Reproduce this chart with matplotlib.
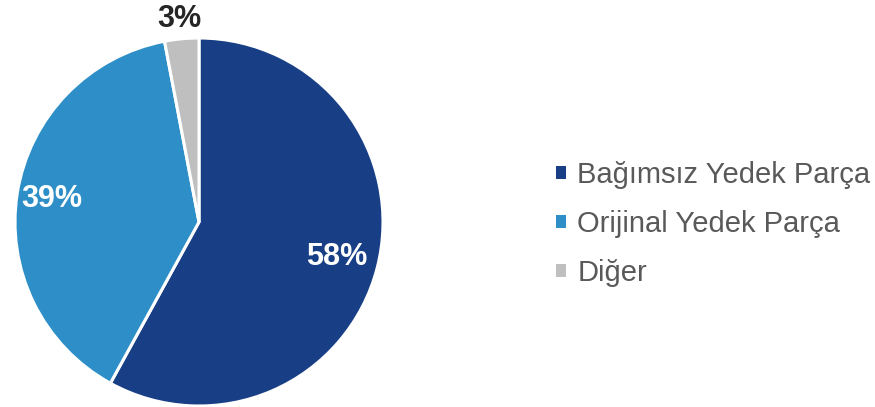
import matplotlib
matplotlib.use("Agg")
import matplotlib.pyplot as plt
from matplotlib.patches import Patch
import numpy as np

categories = ["Bağımsız Yedek Parça", "Orijinal Yedek Parça", "Diğer"]
values = [58, 39, 3]
labels = ["58%", "39%", "3%"]
colors = ["#183f86", "#2e8fc8", "#bfbfbf"]
label_colors = ["white", "white", "#262626"]
label_dist = [0.77, 0.81, 1.11]

plt.rcParams['font.family'] = ['Liberation Sans', 'DejaVu Sans']

W, H = 875, 407
fig = plt.figure(figsize=(W / 100, H / 100), dpi=100)
ax = fig.add_axes([0, 0, 1, 1])
ax.set_xlim(0, W)
ax.set_ylim(0, H)
ax.set_aspect('equal')
ax.axis('off')

cx, cy, r = 199, H - 222, 184
wedges, _ = ax.pie(values, colors=colors, startangle=90, counterclock=False,
                   center=(cx, cy), radius=r,
                   wedgeprops=dict(edgecolor='white', linewidth=2.2))
ax.set_xlim(0, W)
ax.set_ylim(0, H)

for w, lab, lc, d in zip(wedges, labels, label_colors, label_dist):
    ang = np.deg2rad((w.theta1 + w.theta2) / 2)
    x = cx + d * r * np.cos(ang)
    y = cy + d * r * np.sin(ang)
    ax.text(x, y, lab, ha='center', va='center', fontsize=22,
            fontweight='bold', color=lc)

handles = [Patch(facecolor=c, edgecolor='none') for c in colors]
leg = fig.legend(handles, categories, loc='center left',
                 bbox_to_anchor=(541 / W, 1 - 224 / H), frameon=False,
                 fontsize=21, handlelength=0.34, handleheight=0.34,
                 handletextpad=0.4, labelspacing=0.72, borderpad=0)
for t in leg.get_texts():
    t.set_color('#595959')

fig.savefig("out.png", dpi=100)
